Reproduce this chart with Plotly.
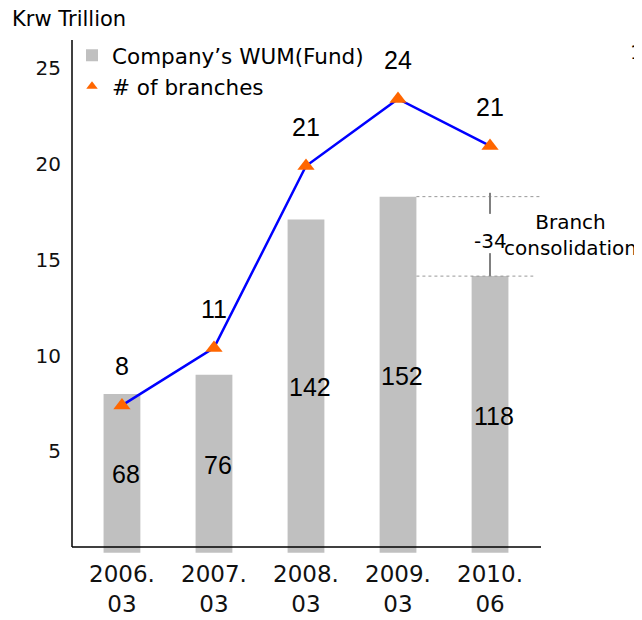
import plotly.graph_objects as go

# data
periods = ["2006.<br>03", "2007.<br>03", "2008.<br>03", "2009.<br>03", "2010.<br>06"]
wum_height = [8.0, 9.0, 17.1, 18.3, 14.15]   # bar height on the Krw Trillion axis
wum_label = [68, 76, 142, 152, 118]          # figures printed inside the bars
branch_pos = [7.4, 10.4, 19.9, 23.4, 20.95]  # where the triangles sit on the axis
branches = [8, 11, 21, 24, 21]               # # of branches labels

BAR_BASE = -0.3
NUM_FONT = "Liberation Sans, Arial"
TXT_FONT = "DejaVu Sans, sans-serif"

fig = go.Figure()

fig.add_trace(go.Bar(
    x=periods,
    y=[h - BAR_BASE for h in wum_height],
    base=BAR_BASE,
    width=0.4,
    marker_color="#C0C0C0",
    marker_line_width=0,
    name="Company’s WUM(Fund)",
    hoverinfo="skip",
))

fig.add_trace(go.Scatter(
    x=periods,
    y=branch_pos,
    mode="lines+markers",
    line=dict(color="#0000FF", width=2.5),
    marker=dict(symbol="triangle-up", size=15, color="#FF6600"),
    showlegend=False,
    hoverinfo="skip",
))

# legend-only entry so the legend shows just the triangle
fig.add_trace(go.Scatter(
    x=[None], y=[None],
    mode="markers",
    marker=dict(symbol="triangle-up", size=10, color="#FF6600"),
    name="# of branches",
))

# branch counts above the triangles
for p, y, n in zip(periods, branch_pos, branches):
    fig.add_annotation(x=p, y=y, text=str(n), showarrow=False, yshift=39,
                       font=dict(family=NUM_FONT, size=25, color="#000"))

# WUM figures inside bars
for p, h, v in zip(periods, wum_height, wum_label):
    fig.add_annotation(x=p, y=h / 2, text=str(v), showarrow=False,
                       xshift=4, yshift=-4,
                       font=dict(family=NUM_FONT, size=25, color="#000"))

# branch consolidation call-out
dot = dict(color="#999999", width=1, dash="dot")
fig.add_shape(type="line", x0=3.2, x1=4.54, y0=wum_height[3], y1=wum_height[3], line=dot)
fig.add_shape(type="line", x0=3.2, x1=4.47, y0=wum_height[4], y1=wum_height[4], line=dot)
seg = dict(color="#808080", width=2)
fig.add_shape(type="line", x0=4, x1=4, y0=18.5, y1=17.4, line=seg)
fig.add_shape(type="line", x0=4, x1=4, y0=15.35, y1=wum_height[4], line=seg)
fig.add_annotation(x=4, y=16.0, text=str(wum_label[4] - wum_label[3]), showarrow=False,
                   font=dict(family=TXT_FONT, size=20, color="#000"))
fig.add_annotation(x=1.062, xref="paper", xanchor="center", y=16.3, yanchor="middle",
                   text="Branch<br>consolidation", showarrow=False,
                   font=dict(family=TXT_FONT, size=20, color="#000"))

# axis lines
fig.add_shape(type="line", xref="paper", x0=0, x1=1, y0=0, y1=0,
              line=dict(color="#000", width=1.5))
fig.add_shape(type="line", xref="paper", x0=0, x1=0, y0=0, y1=26.48,
              line=dict(color="#000", width=1.5))

fig.add_annotation(x=-0.132, xref="paper", xanchor="left", y=1.0405, yref="paper",
                   yanchor="middle", text="Krw Trillion", showarrow=False,
                   font=dict(family=TXT_FONT, size=21, color="#000"))
fig.add_annotation(x=1.2026, xref="paper", xanchor="center", y=0.977, yref="paper",
                   yanchor="middle", text="1", showarrow=False,
                   font=dict(family=TXT_FONT, size=20, color="#000"))

# page body adds an 8px offset, so the figure is 8px smaller and margins shifted
fig.update_layout(
    width=634, height=612,
    margin=dict(l=64, r=101, t=32, b=62),
    plot_bgcolor="white", paper_bgcolor="white",
    showlegend=True,
    legend=dict(x=0, y=1.01, xanchor="left", yanchor="top",
                font=dict(family=TXT_FONT, size=21.5, color="#000"),
                bgcolor="rgba(0,0,0,0)", tracegroupgap=0),
    xaxis=dict(range=[-0.543, 4.554], showgrid=False, showline=False, zeroline=False,
               automargin=False, ticks="",
               tickfont=dict(family=TXT_FONT, size=23, color="#111")),
    yaxis=dict(range=[-0.57, 26.48], tickvals=[5, 10, 15, 20, 25], showgrid=False,
               automargin=False,
               showline=False, zeroline=False, ticks="outside", ticklen=6,
               tickcolor="rgba(0,0,0,0)",
               tickfont=dict(family=TXT_FONT, size=20, color="#111")),
)

fig.write_html("out.html")
